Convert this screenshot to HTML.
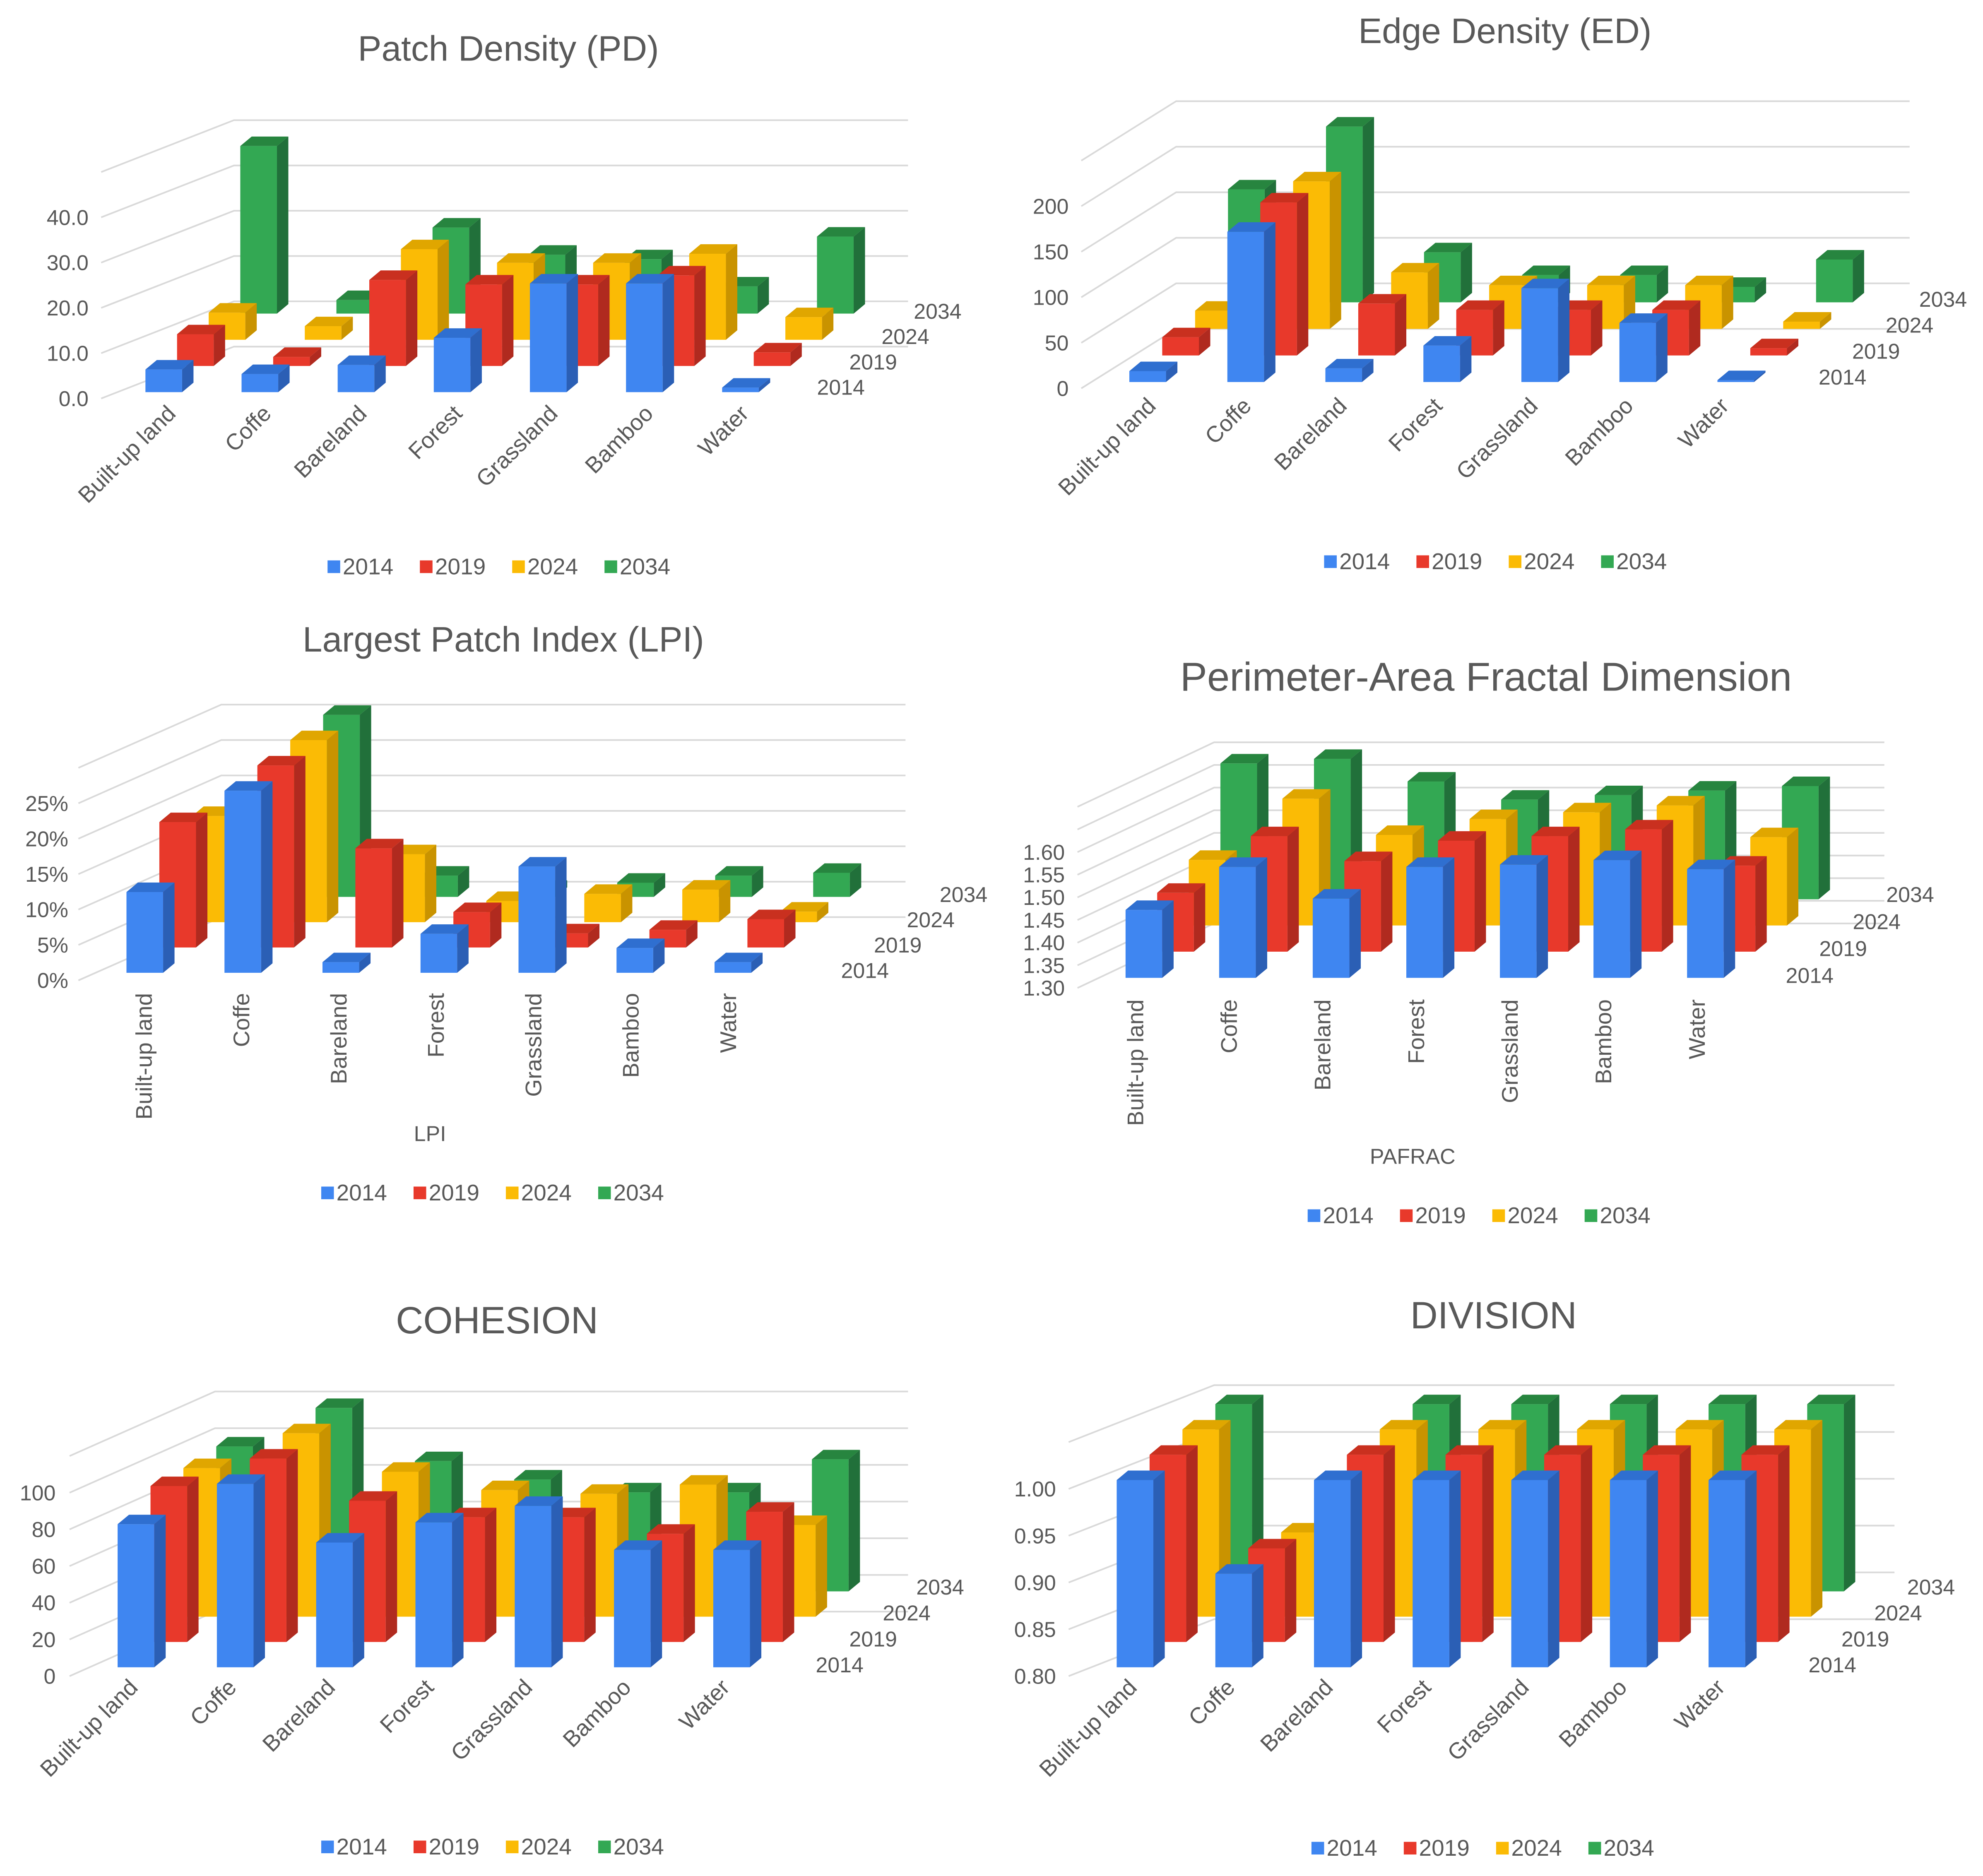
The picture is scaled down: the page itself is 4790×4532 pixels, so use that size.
<!DOCTYPE html>
<html><head><meta charset="utf-8"><style>
html,body{margin:0;padding:0;background:#fff;}
svg{display:block;}
text{font-family:"Liberation Sans",Arial,sans-serif;fill:#595959;}
</style></head><body>
<svg id="root" xmlns="http://www.w3.org/2000/svg" width="4790" height="4532" viewBox="0 0 1568 1483" preserveAspectRatio="none"></svg>
<script>
const cats = ["Built-up land","Coffe","Bareland","Forest","Grassland","Bamboo","Water"];
const years = ["2014","2019","2024","2034"];
const pd2014 = [5,4,6,12,24,24,1];
const pd2019 = [7,2,19,18,18,20,3];
const pd2024 = [6,3,20,17,17,19,5];
const pd2034 = [37,3,19,13,12,6,17];
const pdTicks = ["0.0","10.0","20.0","30.0","40.0"];
const ed2014 = [12,165,15,40,103,65,2];
const ed2019 = [20,168,57,50,50,50,8];
const ed2024 = [20,162,62,48,48,48,8];
const ed2034 = [124,193,55,30,30,17,47];
const edTicks = ["0","50","100","150","200"];
const lpi2014 = [11.4,25.7,1.5,5.5,15,3.5,1.5];
const lpi2019 = [17.7,25.7,14,5,2,2.5,4];
const lpi2024 = [15,25.7,9.6,3,4,4.6,1.5];
const lpi2034 = [10,25.7,3,1,2,3,3.4];
const lpiTicks = ["0%","5%","10%","15%","20%","25%"];
const pf2014 = [1.45,1.545,1.475,1.545,1.55,1.56,1.54];
const pf2019 = [1.43,1.555,1.50,1.545,1.555,1.57,1.49];
const pf2024 = [1.445,1.58,1.50,1.535,1.55,1.565,1.495];
const pf2034 = [1.60,1.61,1.56,1.52,1.53,1.54,1.55];
const pfTicks = ["1.30","1.35","1.40","1.45","1.50","1.55","1.60"];
const co2014 = [78,100,68,79,88,64,64];
const co2019 = [85,100,77,68,68,59,71];
const co2024 = [81,100,79,69,67,72,50];
const co2034 = [79,100,71,61,54,54,72];
const coTicks = ["0","20","40","60","80","100"];
const dv2014 = [1.0,0.90,1.0,1.0,1.0,1.0,1.0];
const dv2019 = [1.0,0.90,1.0,1.0,1.0,1.0,1.0];
const dv2024 = [1.0,0.89,1.0,1.0,1.0,1.0,1.0];
const dv2034 = [1.0,0.90,1.0,1.0,1.0,1.0,1.0];
const dvTicks = ["0.80","0.85","0.90","0.95","1.00"];

const NS="http://www.w3.org/2000/svg";
const root=document.getElementById('root');
const COL=[["#3f86f1","#2b5fb5","#2f6fd0"],["#e8392b","#b02a1f","#c9301f"],["#fbbb05","#c99300","#e0a600"],["#33a853","#21703a","#27853f"]];
function mk(tag,attrs,parent){const e=document.createElementNS(NS,tag);for(const k in attrs)e.setAttribute(k,attrs[k]);(parent||root).appendChild(e);return e;}

function chart(c){
  const g=mk('g',{});
  
  
  const yv=v=>c.y0-(v-c.vmin)*c.s;
  const t=mk('text',{x:c.tx,y:c.ty,'text-anchor':'middle','font-size':c.tfs||28},g);t.textContent=c.title;
  
  
  c.grid.forEach(v=>{
    const fy=yv(v),by=fy+c.bdy;
    const l=mk('polyline',{points:`${c.wx0},${fy} ${c.wx1},${by} ${c.rx},${by}`,fill:'none',stroke:'#d9d9d9','stroke-width':1.3},g);
    
    
  });
  c.ticks.forEach(lbl=>{
    const v=parseFloat(lbl);
    const tt=mk('text',{x:c.lx,y:yv(v)+6,'text-anchor':'end','font-size':17},g);tt.textContent=lbl;
    
    
  });
  const W=29, DX=9, DY=7.5;
  for(let r=3;r>=0;r--){
    const base=c.by-r*c.rdy;
    for(let i=0;i<cats.length;i++){
      const v=c.series[r][i];
      const x=c.bx+i*c.step+r*c.rdx;
      const h=Math.max((v-c.vmin)*c.s,1.5);
      const yt=base-h;
      const bg=mk('g',{},g);
      
      
      mk('rect',{x:x,y:yt,width:W,height:h,fill:COL[r][0]},bg);
      mk('polygon',{points:`${x},${yt} ${x+DX},${yt-DY} ${x+W+DX},${yt-DY} ${x+W},${yt}`,fill:COL[r][2]},bg);
      mk('polygon',{points:`${x+W},${yt} ${x+W+DX},${yt-DY} ${x+W+DX},${base-DY} ${x+W},${base}`,fill:COL[r][1]},bg);
    }
  }
  cats.forEach((cn,i)=>{
    const x=c.cx0+i*c.cstep, y=c.cy;
    const tt=mk('text',{x:x,y:y,'text-anchor':'end','font-size':18,transform:`rotate(${c.rot} ${x} ${y})`},g);tt.textContent=cn;
    
    
  });
  years.forEach((yr,r)=>{
    const tt=mk('text',{x:c.sx+r*c.sdx,y:c.sy-r*c.sdy,'font-size':17},g);tt.textContent=yr;
    
    
  });
  if(c.axt){const tt=mk('text',{x:c.axt[0],y:c.axt[1],'text-anchor':'middle','font-size':17},g);tt.textContent=c.axt[2];
    
    }
  const lg=mk('g',{},g);
  
  
  years.forEach((yr,r)=>{
    const x=c.lgx-146+r*73;
    const e=mk('g',{},lg);
    
    
    mk('rect',{x:x,y:c.lgy-11,width:10,height:10,fill:COL[r][0]},e);
    const tt=mk('text',{x:x+12,y:c.lgy,'font-size':18},e);tt.textContent=yr;
  });
}

chart({name:'patch-density-chart',title:'Patch Density (PD)',tx:402,ty:48,vmin:0,s:3.58,y0:315,
 grid:[0,10,20,30,40,50],bdy:-41,wx0:80,wx1:185,rx:718,ticks:pdTicks,lx:70,
 series:[pd2014,pd2019,pd2024,pd2034],bx:115,step:76,by:310,rdx:25,rdy:20.7,
 cx0:140,cstep:75.5,cy:328,rot:-45,sx:646,sdx:25.5,sy:312,sdy:20,lgx:405,lgy:454});
chart({name:'edge-density-chart',title:'Edge Density (ED)',tx:1190,ty:34,vmin:0,s:0.72,y0:307,
 grid:[0,50,100,150,200,250],bdy:-47,wx0:855,wx1:930,rx:1510,ticks:edTicks,lx:845,
 series:[ed2014,ed2019,ed2024,ed2034],bx:893,step:77.5,by:302,rdx:26,rdy:21,
 cx0:915,cstep:75.5,cy:322,rot:-45,sx:1438,sdx:26.5,sy:304,sdy:20.5,lgx:1193,lgy:450});
chart({name:'largest-patch-index-chart',title:'Largest Patch Index (LPI)',tx:398,ty:515,vmin:0,s:5.6,y0:775,
 grid:[0,5,10,15,20,25,30],bdy:-50,wx0:62,wx1:175,rx:716,ticks:lpiTicks,lx:54,
 series:[lpi2014,lpi2019,lpi2024,lpi2034],bx:100,step:77.5,by:769,rdx:26,rdy:20,
 cx0:120,cstep:77,cy:785,rot:-90,sx:665,sdx:26,sy:773,sdy:20,axt:[340,902,'LPI'],lgx:400,lgy:949});
chart({name:'pafrac-chart',title:'Perimeter-Area Fractal Dimension',tx:1175,ty:546,tfs:32,vmin:1.30,s:358,y0:781,
 grid:[1.30,1.35,1.40,1.45,1.50,1.55,1.60,1.65,1.70],bdy:-51,wx0:852,wx1:960,rx:1490,ticks:pfTicks,lx:842,
 series:[pf2014,pf2019,pf2024,pf2034],bx:890,step:74,by:773,rdx:25,rdy:20.7,
 cx0:904,cstep:74,cy:790,rot:-90,sx:1412,sdx:26.5,sy:777,sdy:21.3,axt:[1117,920,'PAFRAC'],lgx:1180,lgy:967});
chart({name:'cohesion-chart',title:'COHESION',tx:393,ty:1054,tfs:30,vmin:0,s:1.45,y0:1325,
 grid:[0,20,40,60,80,100,120],bdy:-51,wx0:55,wx1:170,rx:718,ticks:coTicks,lx:44,
 series:[co2014,co2019,co2024,co2034],bx:93,step:78.5,by:1318,rdx:26,rdy:20,
 cx0:110,cstep:78,cy:1335,rot:-45,sx:645,sdx:26.5,sy:1322,sdy:20.5,lgx:400,lgy:1466});
chart({name:'division-chart',title:'DIVISION',tx:1181,ty:1050,tfs:30,vmin:0.80,s:740,y0:1325,
 grid:[0.80,0.85,0.90,0.95,1.00,1.05],bdy:-45,wx0:845,wx1:960,rx:1498,ticks:dvTicks,lx:835,
 series:[dv2014,dv2019,dv2024,dv2034],bx:883,step:78,by:1318,rdx:26,rdy:20,
 cx0:900,cstep:77.5,cy:1335,rot:-45,sx:1430,sdx:26,sy:1322,sdy:20.5,lgx:1183,lgy:1467});
</script>
</body></html>
